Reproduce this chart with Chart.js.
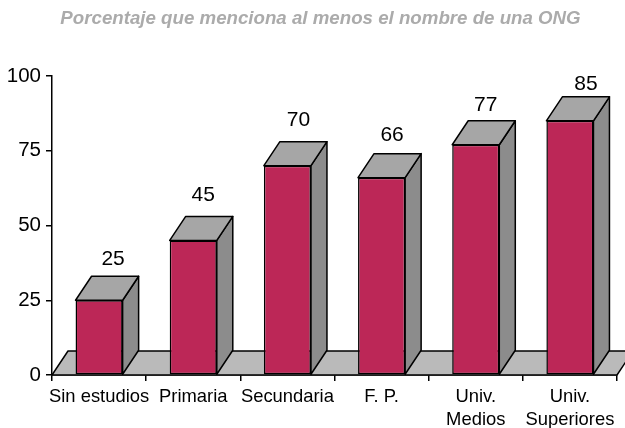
<!DOCTYPE html>
<html>
<head>
<meta charset="utf-8">
<style>
html, body { margin: 0; padding: 0; background: #fff; }
#wrap { width: 625px; height: 428px; }
</style>
<script src="https://cdn.jsdelivr.net/npm/chart.js@4"></script>
</head>
<body>
<div id="wrap"><canvas id="chart"></canvas></div>
<script>
const categories = ['Sin estudios', 'Primaria', 'Secundaria', 'F. P.', ['Univ.', 'Medios'], ['Univ.', 'Superiores']];
const values = [25, 45, 70, 66, 77, 85];
const yTicks = [0, 25, 50, 75, 100];
const titleText = 'Porcentaje que menciona al menos el nombre de una ONG';

const font = '"Liberation Sans", Arial, sans-serif';
const depthX = 16;
const depthY = 24;
// the value labels are not placed evenly in the original
const labelNudge = [[14, 41], [10, 45], [11, 45], [10.5, 42], [10, 40], [16, 37]];

function poly(ctx, pts, fill) {
    ctx.beginPath();
    pts.forEach((p, i) => i ? ctx.lineTo(p[0], p[1]) : ctx.moveTo(p[0], p[1]));
    ctx.closePath();
    ctx.fillStyle = fill;
    ctx.fill();
    ctx.stroke();
}

// floor and the sides of the bars, the fronts are the real bars
const depth = {
    id: 'depth',
    beforeDraw(chart) {
        // title is centred a bit right of the canvas middle
        chart.titleBlock.left = 24;
    },
    beforeDatasetsDraw(chart) {
        const ctx = chart.ctx;
        const area = chart.chartArea;
        ctx.save();
        ctx.strokeStyle = '#000';
        ctx.lineWidth = 1.5;
        ctx.lineJoin = 'round';
        poly(ctx, [
            [area.left, area.bottom],
            [area.left + depthX, area.bottom - depthY],
            [area.right + depthX, area.bottom - depthY],
            [area.right, area.bottom]
        ], '#BABABA');
        chart.getDatasetMeta(0).data.forEach(bar => {
            const l = bar.x - bar.width / 2;
            const r = bar.x + bar.width / 2;
            poly(ctx, [[r, bar.y], [r + depthX, bar.y - depthY], [r + depthX, bar.base - depthY], [r, bar.base]], '#8C8C8C');
            poly(ctx, [[l, bar.y], [l + depthX, bar.y - depthY], [r + depthX, bar.y - depthY], [r, bar.y]], '#A6A6A6');
        });
        ctx.restore();
    },
    afterDatasetsDraw(chart) {
        const ctx = chart.ctx;
        ctx.save();
        ctx.fillStyle = '#000';
        ctx.font = '21px ' + font;
        ctx.textAlign = 'center';
        ctx.textBaseline = 'middle';
        chart.getDatasetMeta(0).data.forEach((bar, i) => {
            ctx.fillText(values[i], bar.x + labelNudge[i][0], bar.y - labelNudge[i][1]);
        });
        ctx.restore();
    }
};

new Chart(document.querySelector('#chart').getContext('2d'), {
    type: 'bar',
    data: {
        labels: categories,
        datasets: [{
            label: 'Porcentaje',
            data: values,
            backgroundColor: '#BC2757',
            borderColor: '#000',
            borderWidth: 1.5,
            borderSkipped: false,
            barPercentage: 1,
            categoryPercentage: 0.5
        }]
    },
    options: {
        responsive: true,
        maintainAspectRatio: false,
        animation: false,
        layout: { padding: { left: 0, right: 8, top: 8, bottom: 0 } },
        plugins: {
            legend: { display: false },
            tooltip: { enabled: false },
            title: {
                display: true,
                text: titleText,
                color: '#ABABAB',
                font: { family: font, size: 18.7, weight: 'bold', style: 'italic' },
                padding: { top: 0, bottom: 45.56 }
            }
        },
        scales: {
            x: {
                afterFit(scale) { scale.height = 53; },
                border: { color: '#000', width: 1.5 },
                grid: { drawOnChartArea: false, color: '#000', lineWidth: 1.5, tickLength: 6 },
                ticks: { color: '#000', font: { family: font, size: 18.4, lineHeight: 1.25 }, maxRotation: 0, autoSkip: false, padding: 4 }
            },
            y: {
                min: 0,
                max: 100,
                afterFit(scale) { scale.width = 52; },
                afterBuildTicks(scale) { scale.ticks = yTicks.map(v => ({ value: v })); },
                border: { color: '#000', width: 1.5 },
                grid: { drawOnChartArea: false, color: '#000', lineWidth: 1.5, tickLength: 6 },
                ticks: { color: '#000', font: { family: font, size: 20.5 }, padding: 5 }
            }
        }
    },
    plugins: [depth]
});
</script>
</body>
</html>
